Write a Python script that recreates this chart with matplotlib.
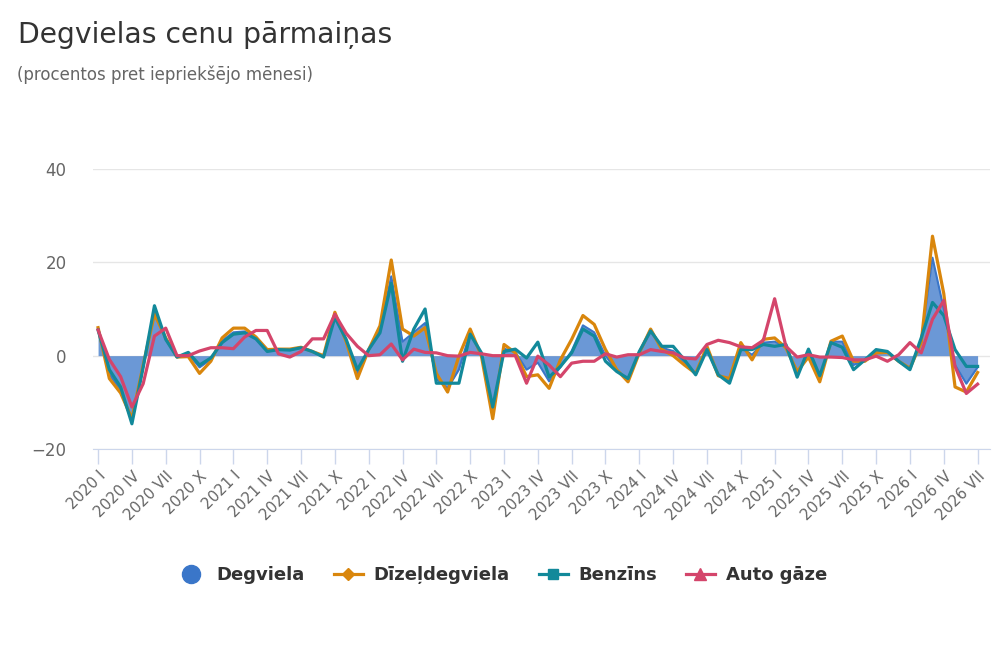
"""
Degvielas cenu parmainas - monthly % change of fuel prices, 2020 I .. 2026 VII
"""
import numpy as np
import matplotlib
matplotlib.use("Agg")
import matplotlib.pyplot as plt
from matplotlib.lines import Line2D

# Data (percent vs previous month)
years = list(range(2020, 2027))
roman = ["I", "II", "III", "IV", "V", "VI", "VII", "VIII", "IX", "X", "XI", "XII"]

degviela = [5.8, -4, -7.5, -14, -2.5, 9.5, 3.5, -0.3, 0.3, -2.5, -0.8, 3.2,
            5, 5.2, 3.8, 1.1, 1.3, 1.3, 1.7, 0.9, -0.2, 8.5, 3.2, -3.8,
            1.3, 5.5, 17, 3, 5, 7, -5, -7, -3, 5, 0, -12,
            1.5, 0.8, -3, -1.5, -5.5, -2.5, 1, 6.5, 5, 0, -3.3, -5,
            0.7, 5.5, 1.7, 1, -1.5, -4, 1.5, -4.2, -5.5, 1.7, 0.2, 2.8,
            3, 2, -4, 0.5, -4.8, 3, 3, -2, -1, 1, 0.8, -1.2,
            -2.8, 3.3, 21, 10, -2, -6, -2.5]

dizelis = [6.0, -4.9, -8, -13.5, -2, 8.9, 3.8, -0.3, -0.2, -3.8, -1.2, 3.8,
           5.9, 5.9, 4, 1.3, 1.4, 1.4, 1.8, 0.9, 0, 9.3, 3, -4.9,
           1.3, 6.4, 20.5, 5.7, 4.2, 6, -3.8, -7.8, -0.1, 5.7, -0.1, -13.5,
           2.4, 0.6, -4.5, -4.1, -7, -0.9, 3.5, 8.6, 6.7, 1.3, -3, -5.6,
           0.6, 5.7, 1.3, 0, -2, -3.8, 2, -4.3, -4.9, 2.8, -0.9, 3.5,
           3.8, 1.7, -3.4, -0.3, -5.6, 3.1, 4.2, -1.2, -1.2, 0.6, 0.7, -1.2,
           -2.7, 2.8, 25.6, 13.3, -6.7, -7.8, -3.6]

benzins = [5.5, -3, -6.7, -14.6, -2.5, 10.7, 3.5, -0.3, 0.7, -2, -0.5, 2.8,
           4.6, 4.9, 3.6, 0.9, 1.3, 1.2, 1.7, 0.9, -0.3, 8.2, 3.5, -3.0,
           1.3, 4.9, 15.5, -1.2, 5.7, 10, -5.9, -5.9, -5.9, 4.6, 0.6, -11,
           0.9, 1.4, -0.5, 2.9, -4.6, -2.3, 0.6, 5.7, 4.2, -1.2, -3.4, -4.9,
           0.9, 5.3, 2, 2, -0.9, -4.1, 1.3, -4.1, -5.9, 1.3, 1.3, 2.4,
           2, 2.4, -4.6, 1.4, -4.3, 2.8, 1.8, -3, -0.9, 1.3, 0.9, -1.2,
           -3, 3.8, 11.4, 8.6, 1.3, -2.3, -2.3]

auto_gaze = [5.5, -0.8, -4.5, -11, -6, 4.2, 5.9, 0, 0, 1.0, 1.7, 1.7,
             1.5, 4.0, 5.4, 5.4, 0.4, -0.3, 0.9, 3.6, 3.6, 8.9, 4.8, 2.0,
             0, 0.2, 2.5, -0.9, 1.4, 0.7, 0.6, 0, -0.1, 0.7, 0.4, 0,
             0, 0, -5.9, -0.1, -2, -4.5, -1.6, -1.2, -1.2, 0.4, -0.3, 0.2,
             0.2, 1.3, 0.9, 0.6, -0.5, -0.7, 2.4, 3.3, 2.8, 1.9, 1.7, 3.3,
             12.2, 2, -0.3, 0.2, -0.3, -0.3, -0.4, -0.9, -0.9, -0.1, -1.2, 0.2,
             2.8, 0.6, 7.8, 11.8, -2.3, -8.1, -6.1]

labels = [f"{y} {m}" for y in years for m in roman][:len(degviela)]

C_BLUE = "#3a76c9"
C_ORANGE = "#d9860c"
C_TEAL = "#12899a"
C_RED = "#d4456b"

x = np.arange(len(degviela))

fig = plt.figure(figsize=(10, 6.67), dpi=100)
ax = fig.add_axes([0.093, 1 - 449 / 667, 0.99 - 0.093, (449 - 169) / 667])

# grid
for v in [-20, 0, 20, 40]:
    ax.axhline(v, color="#e6e6e6", lw=1, zorder=0)

# area + lines
ax.fill_between(x, degviela, 0, color=C_BLUE, alpha=0.75, lw=0, zorder=1)
ax.plot(x, degviela, color=C_BLUE, lw=1.5, zorder=2)
ax.plot(x, dizelis, color=C_ORANGE, lw=2.3, zorder=3, solid_joinstyle="round")
ax.plot(x, benzins, color=C_TEAL, lw=2.3, zorder=4, solid_joinstyle="round")
ax.plot(x, auto_gaze, color=C_RED, lw=2.3, zorder=5, solid_joinstyle="round")

ax.set_ylim(-20, 40)
ax.set_xlim(-0.45, 79.1)
ax.set_yticks([-20, 0, 20, 40])
ax.set_yticklabels(["\u221220", "0", "20", "40"])
ticks = x[::3]
ax.set_xticks(ticks)
ax.set_xticklabels([labels[i] for i in ticks], rotation=45, ha="right",
                   va="top", rotation_mode="anchor")

for s in ["top", "right", "left"]:
    ax.spines[s].set_visible(False)
ax.spines["bottom"].set_color("#ccd6eb")
ax.spines["bottom"].set_zorder(6)
ax.tick_params(axis="y", length=0, pad=19, labelsize=12, labelcolor="#666666")
ax.tick_params(axis="x", length=11, color="#ccd6eb", width=1, pad=3,
               labelsize=10.8, labelcolor="#666666")

# titles
fig.text(0.018, 1 - 43 / 667, "Degvielas cenu pārmaiņas", fontsize=20.3,
         color="#333333", va="baseline")
fig.text(0.017, 1 - 80 / 667, "(procentos pret iepriekšējo mēnesi)", fontsize=12,
         color="#666666", va="baseline")

# legend
handles = [
    Line2D([], [], ls="none", marker="o", ms=13, color=C_BLUE),
    Line2D([], [], color=C_ORANGE, lw=2.3, marker="D", ms=6),
    Line2D([], [], color=C_TEAL, lw=2.3, marker="s", ms=7),
    Line2D([], [], color=C_RED, lw=2.3, marker="^", ms=8),
]
names = ["Degviela", "Dīzeļdegviela", "Benzīns", "Auto gāze"]
leg = fig.legend(handles, names, loc="center", bbox_to_anchor=(0.502, 1 - 575 / 667),
                 ncol=4, frameon=False, handlelength=1.6, columnspacing=1.6,
                 handletextpad=0.6, prop={"weight": "bold", "size": 13})
for t in leg.get_texts():
    t.set_color("#333333")

fig.savefig("out.png", dpi=100)
